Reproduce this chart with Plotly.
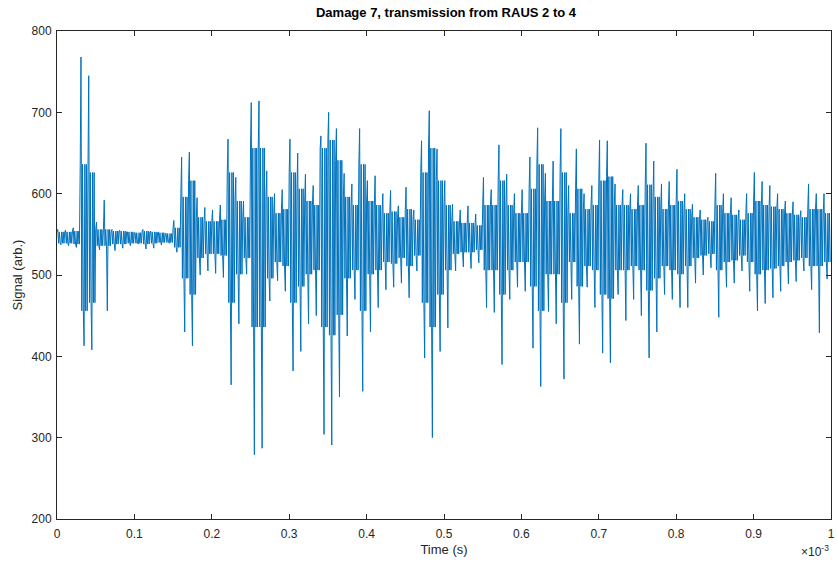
import plotly.graph_objects as go

# Envelope of the recorded signal, read per 0.01 (x10^-3 s) bin; time of bin start in units of 1e-3 s
bin_start_ms = [round(k * 0.01, 2) for k in range(100)]

# Outer (peak) envelope per bin: highest and lowest excursions
peak_hi = [556, 555, 558, 768, 745, 565, 592, 556, 555, 553,
           552, 556, 554, 553, 551, 567, 645, 651, 595, 583,
           580, 586, 667, 620, 591, 712, 714, 628, 600, 605,
           667, 650, 624, 610, 671, 700, 680, 625, 612, 680,
           616, 622, 600, 604, 585, 608, 580, 665, 702, 655,
           616, 587, 580, 585, 575, 620, 605, 660, 624, 600,
           605, 645, 681, 625, 640, 680, 610, 655, 600, 610,
           666, 665, 612, 605, 600, 610, 662, 640, 612, 615,
           630, 600, 587, 580, 571, 625, 600, 595, 580, 600,
           626, 615, 610, 600, 591, 590, 579, 612, 600, 600]
peak_lo = [537, 536, 534, 413, 408, 531, 456, 530, 533, 536,
           538, 532, 533, 537, 539, 528, 430, 413, 500, 505,
           502, 497, 365, 440, 501, 279, 287, 468, 493, 480,
           382, 406, 440, 450, 304, 291, 350, 425, 470, 357,
           430, 460, 482, 485, 490, 472, 505, 398, 300, 406,
           435, 505, 510, 508, 515, 460, 454, 390, 470, 485,
           480, 410, 363, 455, 440, 372, 470, 415, 485, 460,
           404, 392, 476, 444, 470, 450, 398, 430, 476, 470,
           460, 460, 490, 500, 509, 448, 485, 490, 505, 480,
           456, 465, 472, 480, 489, 492, 505, 482, 429, 495]

# Dense core half-width (around the baseline) per bin
core_half = [7, 7, 8, 90, 80, 10, 10, 8, 8, 7,
             7, 8, 7, 6, 6, 12, 50, 70, 25, 20,
             20, 22, 80, 45, 25, 110, 110, 50, 30, 35,
             80, 60, 45, 40, 110, 120, 95, 50, 40, 90,
             45, 40, 30, 32, 25, 35, 22, 80, 110, 70,
             40, 20, 18, 18, 15, 40, 40, 70, 40, 30,
             30, 60, 90, 45, 45, 80, 30, 60, 35, 40,
             70, 75, 40, 40, 35, 40, 65, 50, 35, 40,
             45, 35, 25, 22, 20, 40, 30, 28, 22, 30,
             45, 40, 38, 35, 30, 28, 25, 35, 35, 30]
baseline = 546

x_tick_vals = [0, 0.1, 0.2, 0.3, 0.4, 0.5, 0.6, 0.7, 0.8, 0.9, 1.0]
x_tick_text = ["0", "0.1", "0.2", "0.3", "0.4", "0.5", "0.6", "0.7", "0.8", "0.9", "1"]
y_tick_vals = [200, 300, 400, 500, 600, 700, 800]

# Build the trace: within each bin the trace swings once to each read outer
# extreme and otherwise oscillates inside the read core band.
t_vals, s_vals = [], []
for t0, hi, lo, c in zip(bin_start_ms, peak_hi, peak_lo, core_half):
    ch = min(baseline + c, hi)
    cl = max(baseline - c, lo)
    seq = [ch, hi, cl, ch, cl, lo, ch, cl, ch, cl]
    for j, v in enumerate(seq):
        t_vals.append(t0 + j * 0.001)
        s_vals.append(v)

fig = go.Figure()
fig.add_trace(go.Scatter(x=t_vals, y=s_vals, mode="lines",
                         line=dict(color="#0072BD", width=1.0, simplify=False),
                         showlegend=False, hoverinfo="skip"))

axis_col = "#262626"
fig.update_layout(
    width=837, height=563,
    margin=dict(l=57, r=2, t=31, b=44),
    paper_bgcolor="white", plot_bgcolor="white",
    font=dict(family="Liberation Sans, Arial, sans-serif", size=12, color=axis_col),
    title=dict(text="<b>Damage 7, transmission from RAUS 2 to 4</b>",
               x=446 / 837, xanchor="center", y=1 - 12 / 563, yanchor="middle",
               font=dict(size=13, color="#000000")),
    xaxis=dict(range=[0, 1.0], tickvals=x_tick_vals, ticktext=x_tick_text,
               ticks="inside", ticklen=5, tickcolor=axis_col, showline=True,
               linecolor=axis_col, linewidth=1, mirror="ticks", showgrid=False,
               zeroline=False, ticklabelstandoff=4, ticklabeloverflow="allow",
               title=dict(text="Time (s)", standoff=4, font=dict(size=13))),
    yaxis=dict(range=[200, 800], tickvals=y_tick_vals,
               ticks="inside", ticklen=5, tickcolor=axis_col, showline=True,
               linecolor=axis_col, linewidth=1, mirror="ticks", showgrid=False,
               zeroline=False, ticklabelstandoff=2,
               title=dict(text="Signal (arb.)", standoff=6, font=dict(size=13))),
    annotations=[dict(text="\u00d710<sup>-3</sup>", xref="paper", yref="paper",
                      x=1.0, y=(519 - 551) / 488, xanchor="right", yanchor="middle",
                      showarrow=False, font=dict(size=12, color=axis_col))],
)

fig.write_html("out.html")
